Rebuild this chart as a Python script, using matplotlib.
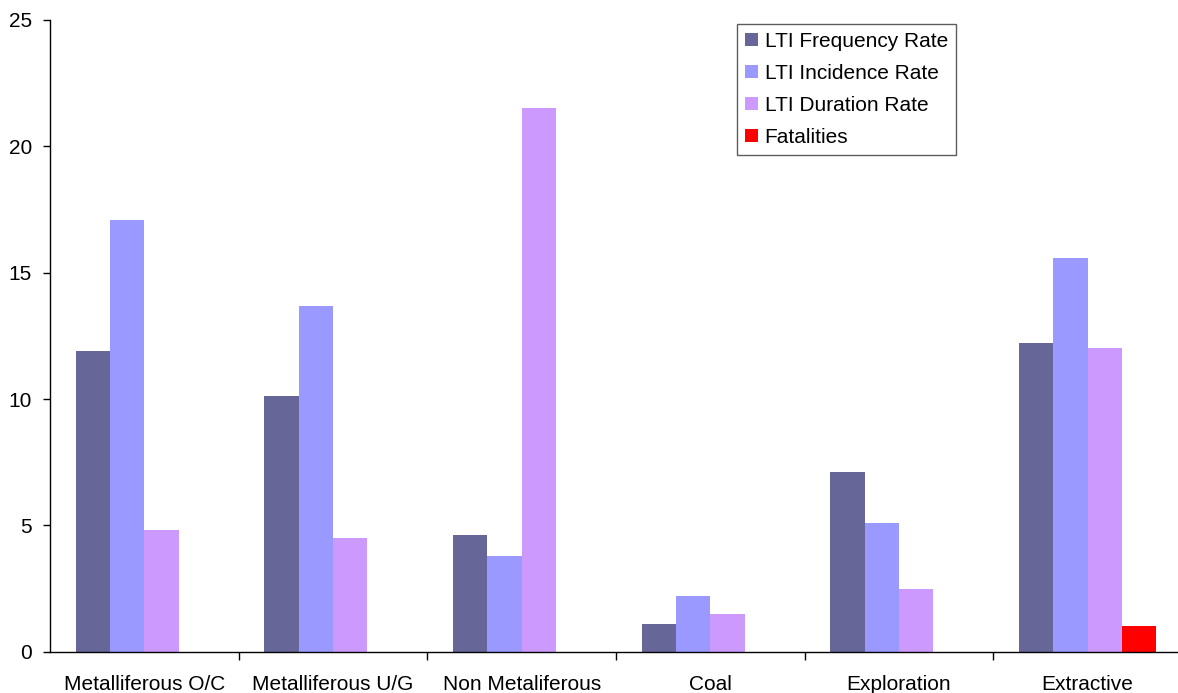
import numpy as np
import matplotlib
matplotlib.use("Agg")
from matplotlib import pyplot as plt

plt.rcParams["font.family"] = ["Liberation Sans", "DejaVu Sans"]

categories = ["Metalliferous O/C", "Metalliferous U/G", "Non Metaliferous",
              "Coal", "Exploration", "Extractive"]
frequency_rate = [11.9, 10.1, 4.6, 1.1, 7.1, 12.2]
incidence_rate = [17.1, 13.7, 3.8, 2.2, 5.1, 15.6]
duration_rate = [4.8, 4.5, 21.5, 1.5, 2.5, 12.0]
fatalities = [0, 0, 0, 0, 0, 1.0]

series = [
    ("LTI Frequency Rate", frequency_rate, "#666699"),
    ("LTI Incidence Rate", incidence_rate, "#9999FF"),
    ("LTI Duration Rate", duration_rate, "#CC99FF"),
    ("Fatalities", fatalities, "#FF0000"),
]

W, H = 1178, 693
fig = plt.figure(figsize=(W / 100, H / 100), dpi=100)
ax = fig.add_axes([50 / W, 41.3 / H, 1132 / W, 631.7 / H])

x = np.arange(len(categories))
width = 1 / (len(series) + 1.5)
for i, (name, vals, color) in enumerate(series):
    ax.bar(x + (i - 1.5) * width, vals, width, color=color, label=name)

ax.set_xlim(-0.5, len(categories) - 0.5)
ax.set_ylim(0, 25)
ax.set_yticks(range(0, 26, 5))

ax.set_xticks(x)
ax.set_xticklabels(categories)
ax.set_xticks(np.arange(-0.5, len(categories) - 0.5, 1)[1:], minor=True)
ax.tick_params(axis="x", which="major", length=0, pad=16.5, labelsize=15)
ax.tick_params(axis="x", which="minor", length=6, direction="out", width=1)
ax.tick_params(axis="y", length=5, direction="out", width=1, labelsize=15, pad=8)

for side in ("top", "right"):
    ax.spines[side].set_visible(False)
for side in ("left", "bottom"):
    ax.spines[side].set_linewidth(1)

leg = ax.legend(loc="upper left", bbox_to_anchor=(737 / W, 1 - 24 / H),
                bbox_transform=fig.transFigure, fontsize=15, frameon=True,
                fancybox=False, edgecolor="#333333", handlelength=0.62,
                handleheight=0.62, handletextpad=0.33, labelspacing=0.62,
                borderpad=0.38, borderaxespad=0)
leg.get_frame().set_linewidth(1)

fig.savefig("out.png", dpi=100)
